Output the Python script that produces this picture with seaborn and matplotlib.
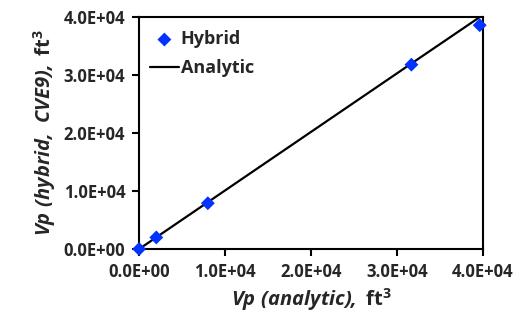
import matplotlib
matplotlib.use("Agg")
import matplotlib.pyplot as plt
import seaborn as sns
import pandas as pd

vp_analytic = [0, 2000, 8000, 31700, 39650]
vp_hybrid = [0, 2000, 7900, 31800, 38600]
line_x = [0, 2000, 8000, 31700, 39650]
line_y = [0, 2020, 8080, 32000, 40000]
ticks = [0, 10000, 20000, 30000, 40000]

sns.set_theme(style="ticks")
FONT = "Open Sans"
plt.rcParams["font.family"] = [FONT, "DejaVu Sans"]
plt.rcParams["mathtext.fontset"] = "custom"
plt.rcParams["mathtext.rm"] = f"{FONT}:bold"
plt.rcParams["mathtext.bf"] = f"{FONT}:bold"
plt.rcParams["mathtext.it"] = f"{FONT}:italic:bold"
plt.rcParams["mathtext.bfit"] = f"{FONT}:italic:bold"

df_pts = pd.DataFrame({"x": vp_analytic, "y": vp_hybrid})
df_line = pd.DataFrame({"x": line_x, "y": line_y})

fig = plt.figure(figsize=(5.23, 3.23), dpi=100)
ax = fig.add_axes([0.266, 0.229, 0.657, 0.718])

sns.lineplot(data=df_line, x="x", y="y", ax=ax, color="black", lw=1.6, label="Analytic", zorder=2)
sns.scatterplot(data=df_pts, x="x", y="y", ax=ax, marker="D", color="#0033FF", s=50,
                edgecolor="none", label="Hybrid", zorder=3, clip_on=False)

ax.set_xlim(0, 40000)
ax.set_ylim(0, 40000)
ax.set_xticks(ticks)
ax.set_yticks(ticks)
fmt = lambda v: f"{v:.1E}"
ax.set_xticklabels([fmt(t) for t in ticks], fontsize=12, fontweight="bold")
ax.set_yticklabels([fmt(t) for t in ticks], fontsize=12, fontweight="bold")
ax.tick_params(direction="out", length=5, width=1.5, color="black", pad=5)

for s in ax.spines.values():
    s.set_visible(True)
    s.set_linewidth(1.5)
    s.set_color("black")

ax.set_xlabel(r"$\mathbfit{Vp\ (analytic),}\;\mathrm{ft}^{3}$", fontsize=14.5, labelpad=4)
ax.set_ylabel(r"$\mathbfit{Vp\ (hybrid,\ CVE9),}\;\mathrm{ft}^{3}$", fontsize=14.5, labelpad=4)

h, l = ax.get_legend_handles_labels()
order = [l.index("Hybrid"), l.index("Analytic")]
ax.legend([h[i] for i in order], [l[i] for i in order], loc="upper left", frameon=False,
          prop={"family": FONT, "weight": "bold", "size": 13},
          handlelength=1.6, handletextpad=0.1, borderaxespad=0.2, labelspacing=0.6,
          bbox_to_anchor=(0.0, 0.99))

fig.savefig("out.png", dpi=100)
